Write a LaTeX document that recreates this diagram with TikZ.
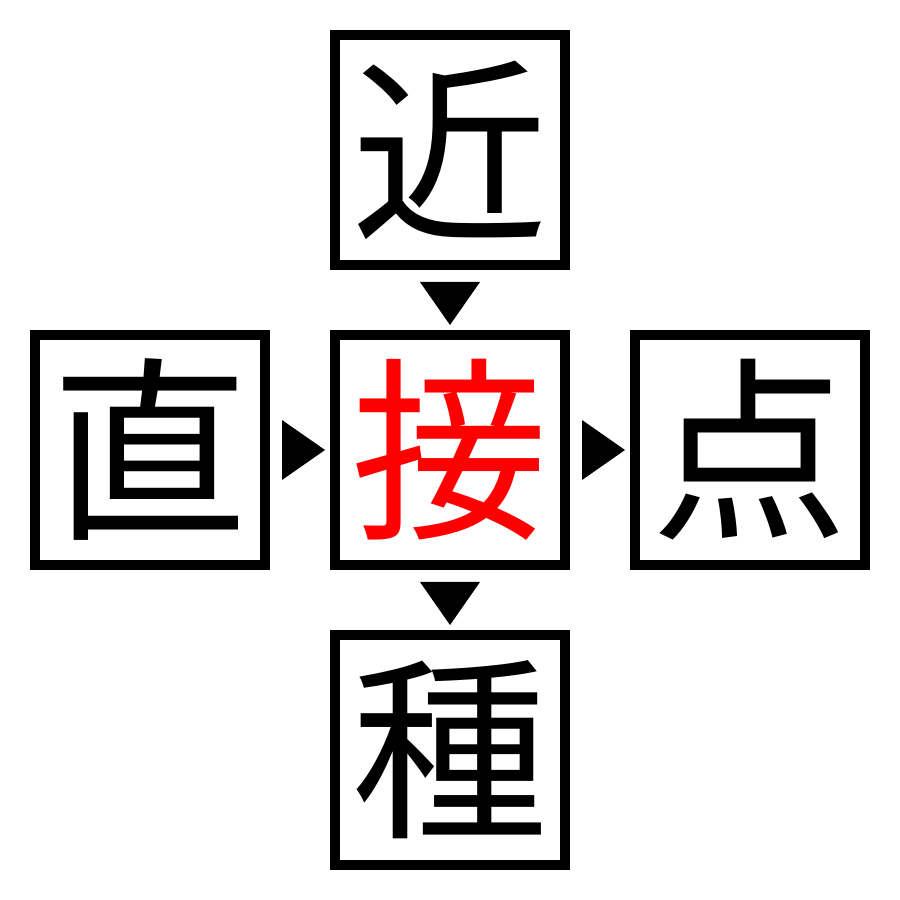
\documentclass[tikz,border=0pt]{standalone}
\usepackage{fontspec}
\newfontfamily\cjk{Noto Sans CJK JP}
\usetikzlibrary{positioning,calc}
\tikzset{
  kanji/.style={draw, line width=1mm, minimum size=2.3cm, inner sep=0pt,
    font=\cjk\fontsize{56}{56}\selectfont},
  marker/.style={fill=black}
}
\begin{document}
\begin{tikzpicture}
      \useasboundingbox (0,0) rectangle (9,9);
      \node[kanji, text=red] (c) at (4.5,4.5) {接};
      \node[kanji, above=0.6cm of c] (n) {近};
      \node[kanji, below=0.6cm of c] (s) {種};
      \node[kanji, left=0.6cm of c] (w) {直};
      \node[kanji, right=0.6cm of c] (e) {点};
      % markers between the boxes
      \fill[marker] ($(n.south)+(-0.3,-0.12)$) -- ++(0.6,0) -- ($(n.south)+(0,-0.55)$) -- cycle;
      \fill[marker] ($(c.south)+(-0.3,-0.12)$) -- ++(0.6,0) -- ($(c.south)+(0,-0.55)$) -- cycle;
      \fill[marker] ($(w.east)+(0.12,-0.3)$) -- ++(0,0.6) -- ($(w.east)+(0.55,0)$) -- cycle;
      \fill[marker] ($(c.east)+(0.12,-0.3)$) -- ++(0,0.6) -- ($(c.east)+(0.55,0)$) -- cycle;
    \end{tikzpicture}
\end{document}
